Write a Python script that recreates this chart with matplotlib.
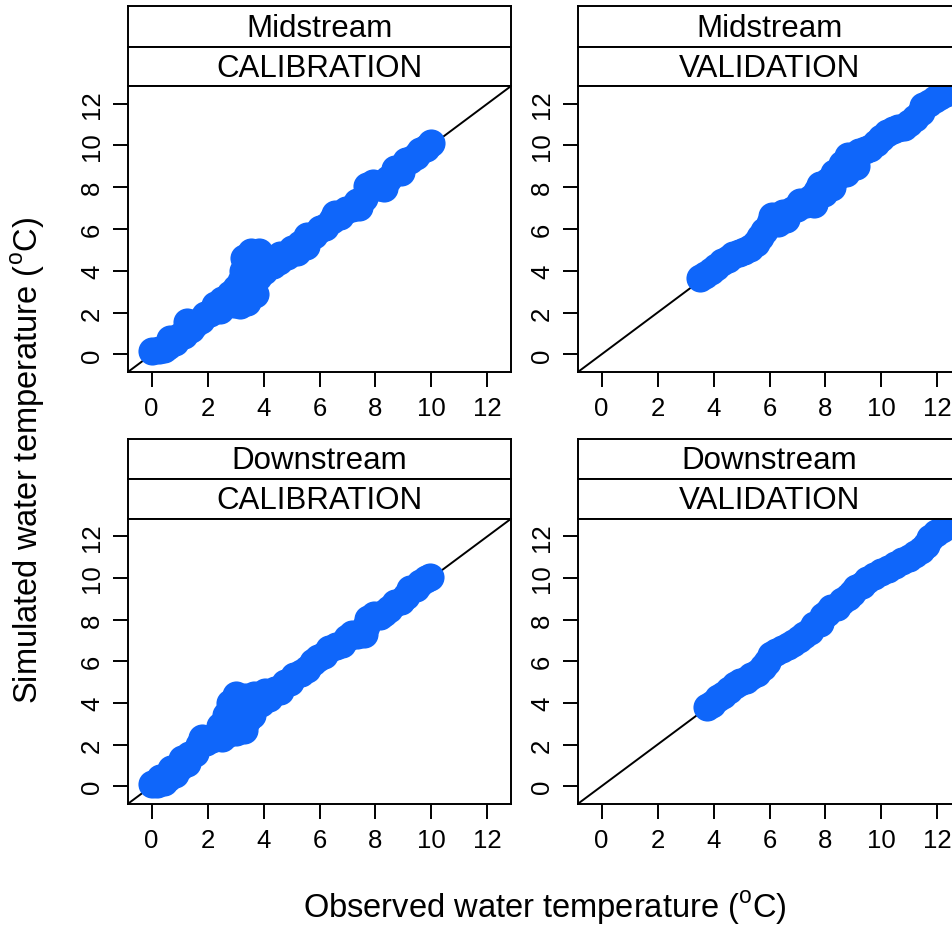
import matplotlib
matplotlib.use('Agg')
import matplotlib.pyplot as plt

plt.rcParams['font.family'] = ['Liberation Sans', 'DejaVu Sans']

# ---------------- data ----------------
obs_mid_cal = [0.0, 0.25, 0.45, 0.6, 0.65, 0.85, 1.0, 1.15, 1.25, 1.4, 1.55, 1.75, 1.9, 2.1,
               2.25, 2.45, 2.5, 2.7, 2.8, 2.95, 3.0, 3.15, 3.2, 3.2, 3.25, 3.3, 3.4, 3.45,
               3.5, 3.55, 3.7, 3.75, 3.85, 3.8, 4.0, 4.15, 4.35, 4.55, 4.6, 4.85, 5.0, 5.2,
               5.3, 5.5, 5.55, 5.8, 6.0, 6.2, 6.45, 6.55, 6.75, 6.95, 7.15, 7.4, 7.35, 7.6,
               7.7, 7.9, 8.1, 8.3, 8.45, 8.7, 8.9, 9.1, 9.25, 9.45, 9.6, 9.8, 10.0]
sim_mid_cal = [0.15, 0.2, 0.25, 0.4, 0.75, 0.6, 0.9, 0.95, 1.55, 1.2, 1.45, 1.65, 1.9, 2.0,
               2.35, 2.1, 2.6, 2.4, 2.9, 2.4, 3.2, 2.35, 2.9, 3.5, 4.0, 4.6, 2.5, 3.2,
               3.8, 4.9, 2.9, 4.4, 4.9, 3.7, 4.0, 4.4, 4.3, 4.45, 4.75, 4.7, 5.05, 4.9,
               5.3, 5.2, 5.65, 5.7, 6.0, 6.1, 6.45, 6.7, 6.6, 6.9, 7.0, 7.05, 7.3, 7.5,
               8.05, 8.2, 8.0, 7.95, 8.4, 8.85, 8.75, 9.25, 9.3, 9.5, 9.75, 9.9, 10.1]

obs_mid_val = [3.5, 3.7, 3.9, 4.1, 4.3, 4.5, 4.7, 4.9, 5.1, 5.3, 5.5, 5.65, 5.8, 6.0, 6.1,
               6.3, 6.5, 6.6, 6.8, 7.0, 7.1, 7.3, 7.5, 7.6, 7.7, 7.8, 7.95, 8.1, 8.25,
               8.3, 8.5, 8.6, 8.75, 8.8, 9.0, 9.1, 9.2, 9.4, 9.6, 9.8, 10.0, 10.2, 10.4,
               10.6, 10.8, 11.0, 11.2, 11.4, 11.5, 11.7, 11.9, 12.1, 12.3, 12.5, 12.7]
sim_mid_val = [3.65, 3.8, 4.0, 4.2, 4.4, 4.55, 4.75, 4.85, 4.95, 5.1, 5.35, 5.6, 5.9, 6.3, 6.6,
               6.3, 6.75, 6.5, 6.9, 7.0, 7.3, 7.2, 7.5, 7.2, 7.8, 8.1, 7.7, 8.3, 8.0,
               8.7, 8.6, 9.1, 8.7, 9.5, 9.3, 9.0, 9.7, 9.8, 9.9, 10.1, 10.35, 10.6, 10.75,
               10.85, 10.9, 11.05, 11.3, 11.6, 11.9, 12.05, 12.2, 12.35, 12.5, 12.6, 12.7]

obs_down_cal = [0.0, 0.2, 0.3, 0.45, 0.6, 0.7, 0.85, 1.0, 1.1, 1.25, 1.35, 1.55, 1.7, 1.8,
                1.95, 2.15, 2.3, 2.45, 2.5, 2.65, 2.7, 2.8, 2.85, 3.0, 3.0, 3.05, 3.2, 3.3,
                3.35, 3.4, 3.6, 3.65, 3.7, 3.9, 4.05, 4.2, 4.4, 4.6, 4.75, 4.95, 5.1, 5.35,
                5.55, 5.75, 5.95, 6.15, 6.35, 6.6, 6.8, 7.0, 7.15, 7.35, 7.5, 7.6, 7.65,
                7.75, 7.95, 8.15, 8.3, 8.5, 8.7, 8.9, 9.1, 9.25, 9.45, 9.6, 9.8, 9.95]
sim_down_cal = [0.1, 0.1, 0.4, 0.2, 0.4, 0.85, 0.6, 0.9, 1.3, 1.1, 1.5, 1.6, 2.0, 2.3,
                2.1, 2.25, 2.45, 2.9, 2.3, 3.4, 2.5, 4.0, 3.0, 4.4, 2.6, 3.5, 3.9, 2.7,
                4.3, 3.2, 3.4, 4.4, 3.9, 4.0, 4.5, 4.25, 4.6, 4.55, 4.95, 5.0, 5.3, 5.45,
                5.65, 5.95, 6.15, 6.3, 6.6, 6.75, 6.85, 7.1, 7.3, 7.25, 7.4, 7.3, 7.7,
                8.05, 8.2, 8.15, 8.3, 8.5, 8.8, 8.9, 9.15, 9.45, 9.5, 9.75, 9.95, 10.05]

obs_down_val = [3.75, 3.95, 4.15, 4.35, 4.55, 4.75, 4.95, 5.15, 5.35, 5.55, 5.75, 5.9, 6.05,
                6.25, 6.45, 6.65, 6.85, 7.05, 7.25, 7.45, 7.6, 7.8, 7.9, 8.05, 8.2, 8.4,
                8.6, 8.8, 8.95, 9.1, 9.3, 9.5, 9.75, 10.0, 10.25, 10.5, 10.75, 11.0, 11.2,
                11.4, 11.6, 11.75, 11.95, 12.15, 12.35, 12.55, 12.75]
sim_down_val = [3.8, 3.95, 4.25, 4.4, 4.6, 4.85, 5.0, 5.1, 5.3, 5.45, 5.7, 5.95, 6.3,
                6.45, 6.6, 6.75, 6.9, 7.05, 7.25, 7.45, 7.75, 7.85, 8.15, 8.3, 8.55, 8.6,
                8.9, 9.1, 9.3, 9.5, 9.65, 9.9, 10.1, 10.3, 10.45, 10.6, 10.8, 10.95, 11.15,
                11.35, 11.6, 11.9, 12.15, 12.35, 12.5, 12.65, 12.8]

sites = ['Midstream', 'Downstream']
periods = ['CALIBRATION', 'VALIDATION']
tick_values = [0, 2, 4, 6, 8, 10, 12]
axis_limits = (-0.83, 12.83)

panel_data = {
    ('Midstream', 'CALIBRATION'): (obs_mid_cal, sim_mid_cal),
    ('Midstream', 'VALIDATION'): (obs_mid_val, sim_mid_val),
    ('Downstream', 'CALIBRATION'): (obs_down_cal, sim_down_cal),
    ('Downstream', 'VALIDATION'): (obs_down_val, sim_down_val),
}

# ---------------- layout ----------------
W, H, DPI = 953, 929, 100
fig = plt.figure(figsize=(W / DPI, H / DPI), dpi=DPI)
fig.patch.set_facecolor('white')

BLUE = '#0F66FA'
LW = 1.4


def px_axes(x0, y0, x1, y1):
    return fig.add_axes([x0 / W, 1 - y1 / H, (x1 - x0) / W, (y1 - y0) / H])


lefts = [128.3, 578.3]
pw = 382.4
rows = [dict(s1=7.3, s2=47.7, top=87.3, bot=372.7),
        dict(s1=440.0, s2=479.5, top=520.0, bot=804.5)]

for r, site in enumerate(sites):
    g = rows[r]
    for c, period in enumerate(periods):
        x0 = lefts[c]
        x1 = x0 + pw
        # strips
        for (ya, yb, label) in [(g['s1'], g['s2'], site), (g['s2'], g['top'], period)]:
            sa = px_axes(x0, ya, x1, yb)
            sa.set_xticks([])
            sa.set_yticks([])
            for sp in sa.spines.values():
                sp.set_linewidth(LW)
            sa.text(0.5, 0.47, label, ha='center', va='center', fontsize=22.5,
                    transform=sa.transAxes)
        ax = px_axes(x0, g['top'], x1, g['bot'])
        obs, sim = panel_data[(site, period)]
        ax.axline((0, 0), slope=1, color='black', lw=1.4, zorder=1)
        ax.scatter(obs, sim, s=410, color=BLUE, linewidths=0, zorder=2)
        ax.set_xlim(*axis_limits)
        ax.set_ylim(*axis_limits)
        ax.set_xticks(tick_values)
        ax.set_yticks(tick_values)
        ax.tick_params(direction='out', length=10.5, width=LW, labelsize=18.5, pad=7)
        for lab in ax.get_yticklabels():
            lab.set_rotation(90)
            lab.set_va('center')
        for sp in ax.spines.values():
            sp.set_linewidth(LW)

fig.text(545 / W, 1 - 908 / H, r'Observed water temperature ($^\mathregular{o}$C)',
         ha='center', va='center', fontsize=23.5)
fig.text(28 / W, 1 - 460 / H, r'Simulated water temperature ($^\mathregular{o}$C)',
         ha='center', va='center', fontsize=23.5, rotation=90)

fig.savefig('out.png', dpi=DPI)
